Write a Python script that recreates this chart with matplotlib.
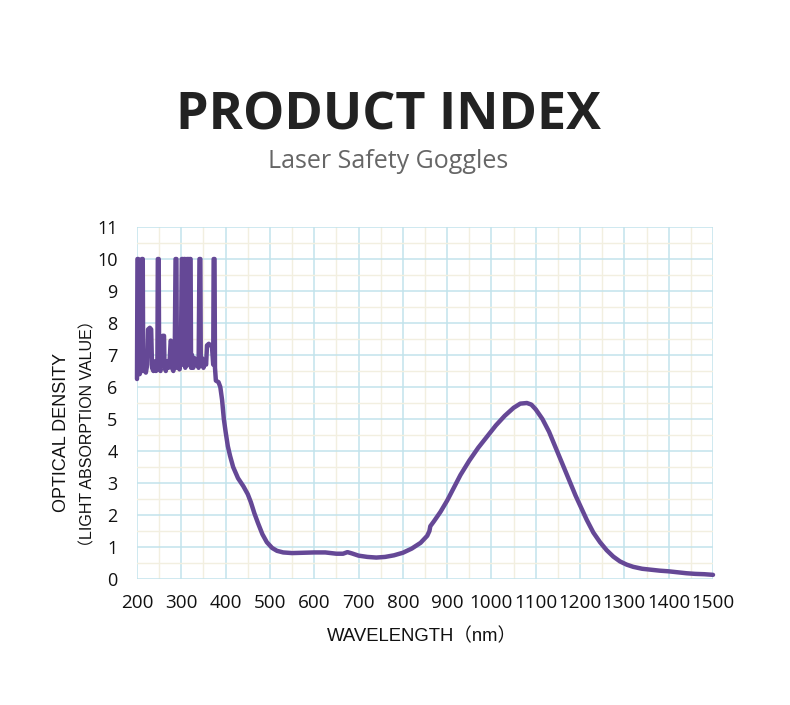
import matplotlib
matplotlib.use("Agg")
import matplotlib.pyplot as plt
from matplotlib.ticker import MultipleLocator

# ---- data ----
wavelength = [
    200, 201, 203, 204, 206, 210, 211, 213, 214, 217, 220, 223, 225, 229, 232, 234,
    237, 240, 243, 246, 247, 249, 250, 253, 256, 258, 261, 262, 265, 268, 271, 274,
    276, 278, 279, 282, 285, 287, 289, 290, 293, 296, 299, 301, 303, 304, 306, 308,
    309, 311, 313, 314, 316, 317, 319, 321, 322, 324, 327, 330, 333, 336, 339, 341,
    343, 344, 347, 350, 353, 356, 358, 362, 366, 369, 371, 372, 373, 375, 376, 378,
    384, 388, 392, 396, 400, 405, 410, 417, 428, 440, 450, 457, 465, 473, 483, 493,
    505, 516, 530, 550, 575, 600, 625, 650, 665, 675, 685, 700, 720, 740, 760, 780,
    800, 820, 840, 855, 860, 862, 870, 885, 900, 915, 930, 950, 970, 990, 1010, 1030,
    1050, 1065, 1080, 1090, 1100, 1115, 1130, 1145, 1160, 1175, 1190, 1200, 1215, 1230,
    1245, 1260, 1275, 1290, 1305, 1320, 1340, 1360, 1380, 1400, 1420, 1440, 1460, 1480,
    1500,
]
optical_density = [
    6.25, 10.0, 10.0, 6.5, 6.4, 6.6, 10.0, 10.0, 6.5, 6.6, 6.45, 6.7, 7.8, 7.85, 7.8, 6.6,
    6.5, 6.8, 6.5, 6.6, 10.0, 10.0, 6.6, 6.5, 7.0, 7.6, 7.6, 6.7, 6.5, 6.8, 6.6, 6.9,
    7.45, 7.4, 6.6, 6.5, 6.7, 10.0, 10.0, 6.6, 6.8, 6.55, 6.8, 10.0, 10.0, 6.7, 10.0, 10.0,
    6.6, 10.0, 6.8, 10.0, 10.0, 6.7, 10.0, 10.0, 6.6, 7.0, 6.6, 6.9, 6.7, 6.8, 6.6, 10.0,
    10.0, 6.7, 6.9, 6.6, 6.8, 6.7, 7.3, 7.35, 7.3, 7.3, 6.9, 6.7, 10.0, 10.0, 6.6, 6.2,
    6.15, 6.0, 5.6, 5.0, 4.6, 4.15, 3.85, 3.5, 3.15, 2.9, 2.65, 2.4, 2.05, 1.75, 1.4, 1.15,
    0.97, 0.88, 0.83, 0.81, 0.82, 0.83, 0.83, 0.79, 0.79, 0.84, 0.8, 0.73, 0.69, 0.67, 0.69, 0.74,
    0.82, 0.95, 1.13, 1.35, 1.5, 1.65, 1.8, 2.1, 2.45, 2.85, 3.25, 3.7, 4.1, 4.45, 4.8, 5.1,
    5.35, 5.48, 5.5, 5.45, 5.3, 5.0, 4.6, 4.1, 3.6, 3.1, 2.6, 2.3, 1.85, 1.45,
    1.15, 0.9, 0.7, 0.55, 0.45, 0.38, 0.32, 0.29, 0.26, 0.24, 0.21, 0.18, 0.16, 0.15,
    0.13,
]
x_ticks = [200, 300, 400, 500, 600, 700, 800, 900, 1000, 1100, 1200, 1300, 1400, 1500]
y_ticks = list(range(0, 12))

title = "PRODUCT INDEX"
subtitle = "Laser Safety Goggles"
ylabel_main = "OPTICAL DENSITY"
ylabel_sub = "（LIGHT ABSORPTION VALUE）"
xlabel = "WAVELENGTH（nm）"

# ---- figure ----
fig = plt.figure(figsize=(7.9, 7.05), dpi=100)
fig.patch.set_facecolor("white")

ax = fig.add_axes([137 / 790, 1 - 579 / 705, (713 - 137) / 790, (579 - 227) / 705])
ax.set_xlim(200, 1500)
ax.set_ylim(0, 11)

ax.xaxis.set_major_locator(MultipleLocator(100))
ax.xaxis.set_minor_locator(MultipleLocator(50))
ax.yaxis.set_major_locator(MultipleLocator(1))
ax.yaxis.set_minor_locator(MultipleLocator(0.5))
ax.grid(which="minor", color="#f2efe0", linewidth=1.0)
ax.grid(which="major", color="#c2e3ec", linewidth=1.1)
ax.set_axisbelow(True)
for s in ax.spines.values():
    s.set_visible(False)

ax.plot(wavelength, optical_density, color="#654896", linewidth=3.2,
        solid_joinstyle="round", solid_capstyle="round", zorder=3, clip_on=False)

ax.set_xticks(x_ticks)
ax.set_yticks(y_ticks)
ax.set_xticklabels([str(v) for v in x_ticks], fontfamily="Open Sans", fontsize=13.6, color="#111111")
ax.set_yticklabels([str(v) for v in y_ticks], fontfamily="Open Sans", fontsize=13, color="#111111")
ax.tick_params(which="both", length=0)
ax.tick_params(axis="x", pad=10.5)
ax.tick_params(axis="y", pad=14)

# titles
fig.text(388 / 790, 1 - 116 / 705, title, ha="center", va="center",
         fontfamily="Open Sans", fontweight="bold", fontsize=37.5, color="#222222")
fig.text(388 / 790, 1 - 162 / 705, subtitle, ha="center", va="center",
         fontfamily="Open Sans", fontsize=18, color="#666666")

# axis labels
fig.text(62 / 790, 1 - 432 / 705, ylabel_main, ha="center", va="center", rotation=90,
         fontfamily=["Liberation Sans", "Noto Sans CJK SC"], fontsize=13, color="#111111")
fig.text(88 / 790, 1 - 434 / 705, ylabel_sub, ha="center", va="center", rotation=90,
         fontfamily=["Liberation Sans", "Noto Sans CJK SC"], fontsize=11.5, color="#111111")
fig.text(422 / 790, 1 - 636 / 705, xlabel, ha="center", va="center",
         fontfamily=["Liberation Sans", "Noto Sans CJK SC"], fontsize=13.3, color="#111111")

fig.savefig("out.png", dpi=100, facecolor="white")
